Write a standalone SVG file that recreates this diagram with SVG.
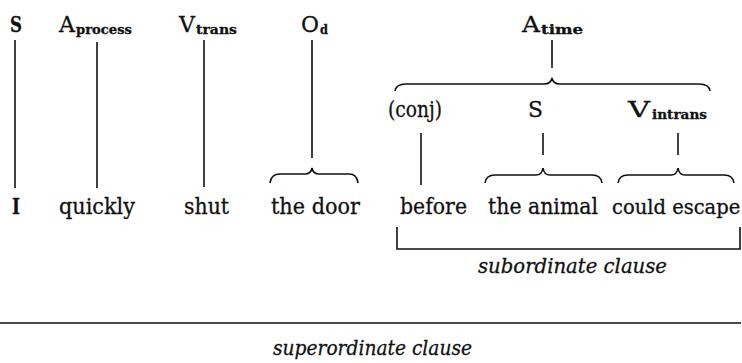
<svg xmlns="http://www.w3.org/2000/svg" width="742" height="363" viewBox="0 0 742 363">
<style>
.m{font-size:23px;}
.b{font-weight:bold;}
.sub{font-size:13px;font-weight:bold;}
.it{font-size:21px;font-style:italic;}
.ln{stroke:#111;stroke-width:1.6;fill:none;}
</style>
<rect width="742" height="363" fill="#fff"/>
<g id="connectors">
<line class="ln" x1="15" y1="40" x2="15" y2="188"/>
<line class="ln" x1="97" y1="42" x2="97" y2="188"/>
<line class="ln" x1="204" y1="40" x2="204" y2="187"/>
<line class="ln" x1="312" y1="40" x2="312" y2="158"/>
<path class="ln" d="M270 183 Q271 174 280 174 L305 174 Q311 174 312 168 Q313 174 319 174 L349 174 Q357 174 358 183"/>
<line class="ln" x1="552" y1="40" x2="552" y2="68"/>
<path class="ln" d="M395 91 Q396 84 406 84 L544 84 Q551 84 552 78 Q553 84 560 84 L699 84 Q709 84 710 91"/>
<line class="ln" x1="421" y1="133" x2="421" y2="185"/>
<line class="ln" x1="543" y1="133" x2="543" y2="155"/>
<line class="ln" x1="678" y1="133" x2="678" y2="155"/>
<path class="ln" d="M485 183 Q486 175 495 175 L536 175 Q542 175 543 168 Q544 175 550 175 L592 175 Q601 175 602 183"/>
<path class="ln" d="M618 183 Q619 175 628 175 L671 175 Q677 175 678 168 Q679 175 685 175 L724 175 Q733 175 734 183"/>
<path class="ln" d="M397 227 L397 249 L740 249 L740 227"/>
<line class="ln" x1="0" y1="323" x2="741" y2="323"/>
</g>
<g font-family="'DejaVu Serif', 'Liberation Serif', serif" fill="#111" stroke="#111" stroke-width="0.3">
<g id="S"><text class="m b" x="10" y="32" textLength="12" lengthAdjust="spacingAndGlyphs">S</text></g>
<g id="Aprocess"><text class="m" x="59" y="32" textLength="16" lengthAdjust="spacingAndGlyphs">A</text><text class="sub" x="76" y="34" textLength="56" lengthAdjust="spacingAndGlyphs">process</text></g>
<g id="Vtrans"><text class="m" x="179" y="32" textLength="16" lengthAdjust="spacingAndGlyphs">V</text><text class="sub" x="196" y="34" textLength="41" lengthAdjust="spacingAndGlyphs">trans</text></g>
<g id="Od"><text class="m" x="301" y="32" textLength="18" lengthAdjust="spacingAndGlyphs">O</text><text class="sub" x="320" y="34" textLength="8" lengthAdjust="spacingAndGlyphs">d</text></g>
<g id="Atime"><text class="m" x="522" y="32" textLength="18" lengthAdjust="spacingAndGlyphs">A</text><text class="sub" x="541" y="34" textLength="42" lengthAdjust="spacingAndGlyphs">time</text></g>
<g id="conj"><text class="m" x="388" y="117" textLength="54" lengthAdjust="spacingAndGlyphs">(conj)</text></g>
<g id="S2"><text class="m" x="528" y="117" textLength="15" lengthAdjust="spacingAndGlyphs">S</text></g>
<g id="Vintrans"><text class="m" x="628" y="117" textLength="22" lengthAdjust="spacingAndGlyphs">V</text><text class="sub" x="652" y="119" textLength="55" lengthAdjust="spacingAndGlyphs">intrans</text></g>
<g id="w-I"><text class="m b" x="12" y="214" textLength="8" lengthAdjust="spacingAndGlyphs">I</text></g>
<g id="w-quickly"><text class="m" x="59" y="214" textLength="76" lengthAdjust="spacingAndGlyphs">quickly</text></g>
<g id="w-shut"><text class="m" x="184" y="214" textLength="45" lengthAdjust="spacingAndGlyphs">shut</text></g>
<g id="w-thedoor"><text class="m" x="271" y="214" textLength="89" lengthAdjust="spacingAndGlyphs">the door</text></g>
<g id="w-before"><text class="m" x="400" y="214" textLength="67" lengthAdjust="spacingAndGlyphs">before</text></g>
<g id="w-theanimal"><text class="m" x="488" y="214" textLength="110" lengthAdjust="spacingAndGlyphs">the animal</text></g>
<g id="w-couldescape"><text x="612" y="214" font-size="19.5">could escape</text></g>
<g id="subordinate"><text class="it" x="478" y="273" textLength="189" lengthAdjust="spacingAndGlyphs">subordinate clause</text></g>
<g id="superordinate"><text class="it" x="273" y="355" textLength="199" lengthAdjust="spacingAndGlyphs">superordinate clause</text></g>
</g>
</svg>
